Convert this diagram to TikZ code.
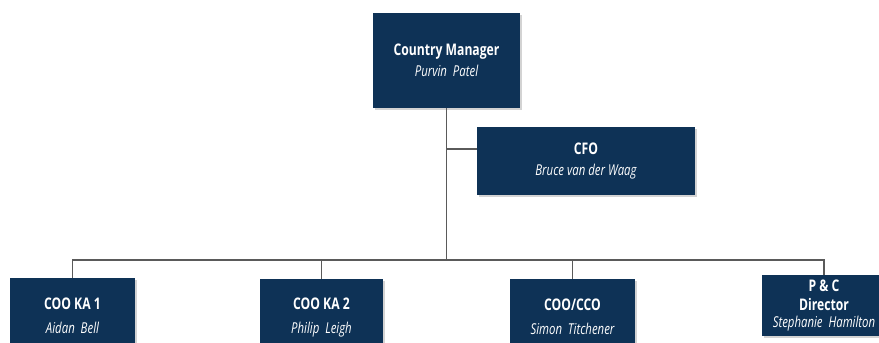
\documentclass[tikz,border=0pt]{standalone}
\usepackage{fontspec}
\setmainfont{Open Sans}[FakeStretch=0.76]
\usetikzlibrary{shadows}
\definecolor{navy}{HTML}{0E3256}
\definecolor{linegray}{HTML}{5A5A5A}
\tikzset{
  box/.style={fill=navy, text=white, align=center, inner sep=0pt,
    drop shadow={shadow xshift=2pt, shadow yshift=-2pt, opacity=0.35, fill=gray}},
  conn/.style={draw=linegray, line width=1.1pt},
  ttl/.style={font=\fontsize{16}{22}\selectfont\bfseries},
}
\newcommand{\nm}[1]{{\fontsize{15}{22}\selectfont\mdseries\itshape #1}}
\begin{document}
\begin{tikzpicture}[x=1pt,y=-1pt]
\useasboundingbox (0,0) rectangle (879,343);
\clip (0,0) rectangle (879,343);
% top boxes
\node[box, minimum width=147pt, minimum height=95pt, ttl] (cm) at (446.5,60.5)
  {Country Manager\\[-1pt]\nm{Purvin\ \ Patel}};
\node[box, minimum width=218pt, minimum height=68pt, ttl] (cfo) at (586,161)
  {CFO\\[-1pt]\nm{Bruce van der Waag}};
% bottom boxes
\node[box, minimum width=125pt, minimum height=76pt, ttl] (ka1) at (72.5,316)
  {COO KA 1\\[2pt]\nm{Aidan\ \ Bell}};
\node[box, minimum width=123pt, minimum height=76pt, ttl] (ka2) at (321.5,317)
  {COO KA 2\\[2pt]\nm{Philip\ \ Leigh}};
\node[box, minimum width=125pt, minimum height=76pt, ttl] (cco) at (572.5,317)
  {COO/CCO\\[2pt]\nm{Simon\ \ Titchener}};
\node[box, minimum width=124pt, minimum height=61pt, ttl] (pc) at (824,305.5)
  {P \& C\\[-3pt]Director\\[-5pt]\nm{Stephanie\ \ Hamilton}};
% connectors
\coordinate (j) at (446.5,260);
\draw[conn] (cm.south) -- (j);
\draw[conn] ([yshift=12pt]cfo.west) -- ([yshift=12pt]cfo.west -| cm.south);
\draw[conn] (ka1.north) |- (j) -| (pc.north);
\draw[conn] (ka2.north) -- (ka2.north |- j);
\draw[conn] (cco.north) -- (cco.north |- j);
\end{tikzpicture}
\end{document}
